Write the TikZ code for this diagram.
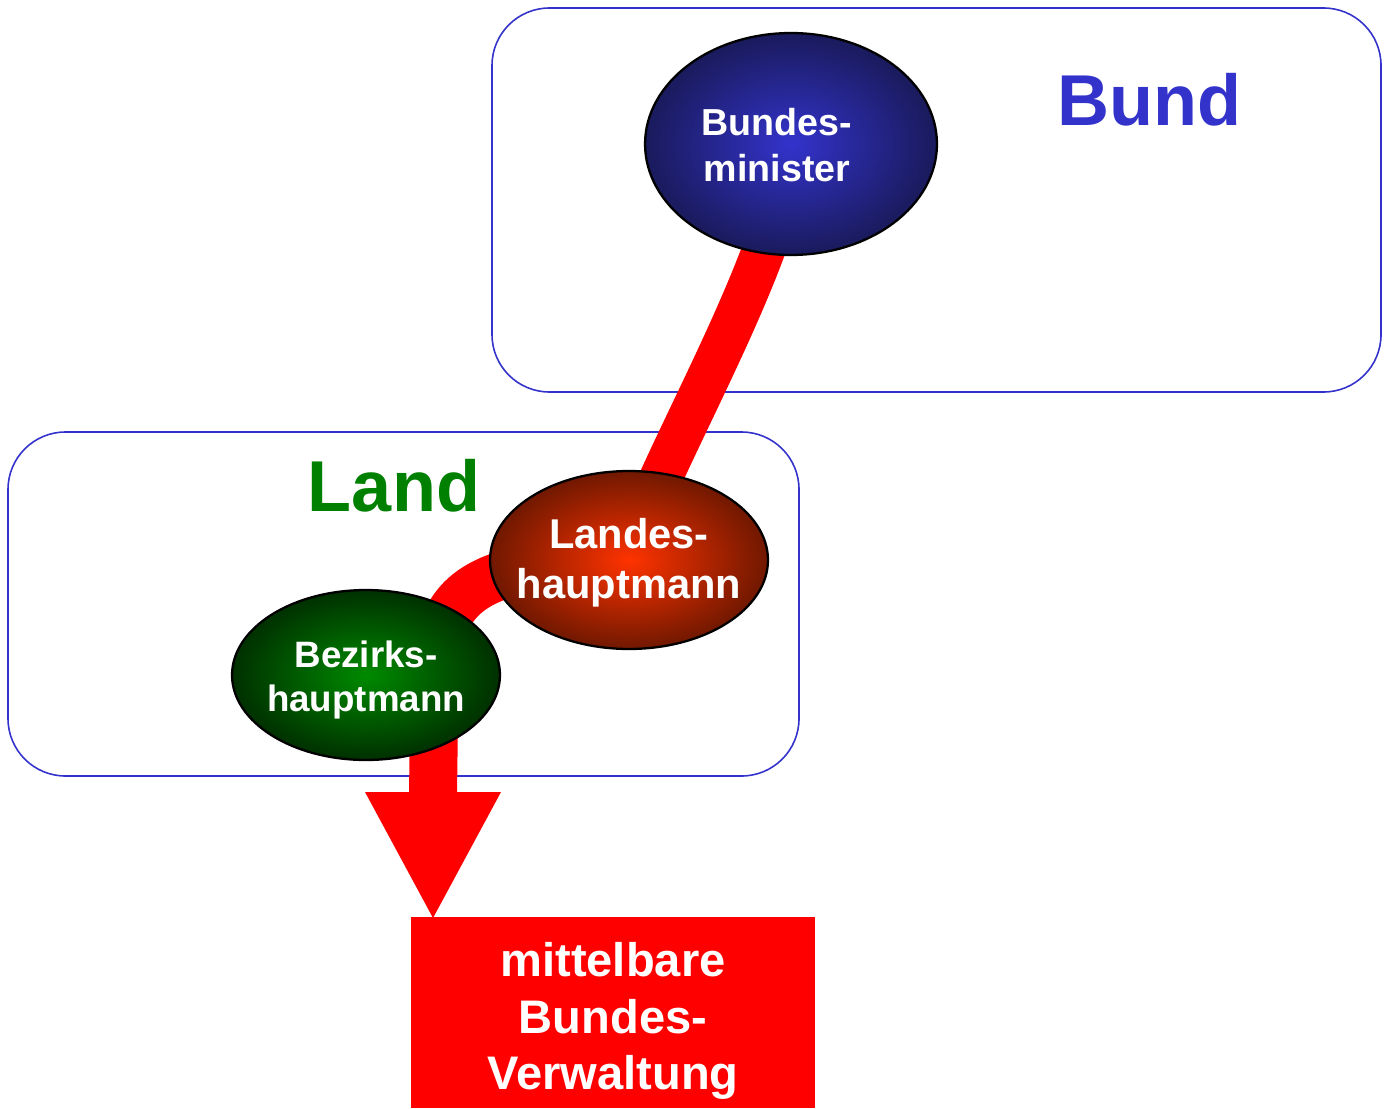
\documentclass[tikz,border=0pt]{standalone}
\usepackage{fontspec}
\setmainfont{Liberation Sans}
\usetikzlibrary{shapes.geometric}
\definecolor{bundblue}{HTML}{3333CC}
\definecolor{landgreen}{HTML}{008000}
\definecolor{bmin}{HTML}{3333CC}
\definecolor{bmout}{HTML}{1A1A5C}
\definecolor{lhin}{HTML}{FF3300}
\definecolor{lhout}{HTML}{701800}
\definecolor{bhin}{HTML}{008A00}
\definecolor{bhout}{HTML}{003000}
\begin{document}
\begin{tikzpicture}[x=0.02cm,y=-0.02cm,
  region/.style={draw=bundblue, line width=0.9pt, rounded corners=1.15cm},
  regtitle/.style={font=\fontsize{41}{48}\selectfont\bfseries, inner sep=0pt},
  ell/.style={ellipse, draw=black, line width=1.3pt, inner sep=0pt, shading=radial},
  elltext/.style={text=white, align=center, inner sep=0pt},
  conn/.style={draw=red, line width=0.86cm},
  shaft/.style={draw=red, line width=0.96cm}
]
\useasboundingbox (0,0) rectangle (1391,1108);
% region boxes
\draw[region] (492,8) rectangle (1381,392);
\draw[region] (8,432) rectangle (799,776);
\node[regtitle, text=bundblue] (bund) at (1149,100) {Bund};
\node[regtitle, text=landgreen] (land) at (394,486) {Land};
% nodes (coordinates only, drawn later)
\coordinate (bmc) at (791,144);
\coordinate (lhc) at (629,560);
\coordinate (bhc) at (366,675);
% connectors
\path[conn] (bmc) .. controls (782,262) and (650,475) .. (lhc);
\coordinate (shaftend) at (433,793);
\path[shaft] (lhc) .. controls (445,563) and (433,605) .. (434,720) -- (shaftend);
\coordinate (tip) at (433,918);
\fill[red] (365,792) -- (501,792) -- (tip) -- cycle;
% ellipses
\node[ell, minimum width=5.84cm, minimum height=4.44cm, inner color=bmin, outer color=bmout] (bm) at (bmc) {};
\node[elltext, font=\fontsize{21.4}{26}\selectfont\bfseries] (bmt) at (777,145) {Bundes-\\minister};
\node[ell, minimum width=5.56cm, minimum height=3.56cm, inner color=lhin, outer color=lhout] (lh) at (lhc) {};
\node[elltext, font=\fontsize{23.7}{28.4}\selectfont\bfseries] (lht) at (629,563) {Landes-\\hauptmann};
\node[ell, minimum width=5.36cm, minimum height=3.40cm, inner color=bhin, outer color=bhout] (bh) at (bhc) {};
\node[elltext, font=\fontsize{20.9}{25.5}\selectfont\bfseries] (bht) at (366,680) {Bezirks-\\hauptmann};
% target box
\node[fill=red, minimum width=8.08cm, minimum height=3.82cm, inner sep=0pt] (mbv) at (613,1012.5) {};
\node[elltext, font=\fontsize{26.8}{32.3}\selectfont\bfseries] (mbvt) at (613,1021) {mittelbare\\Bundes-\\Verwaltung};
\end{tikzpicture}
\end{document}
